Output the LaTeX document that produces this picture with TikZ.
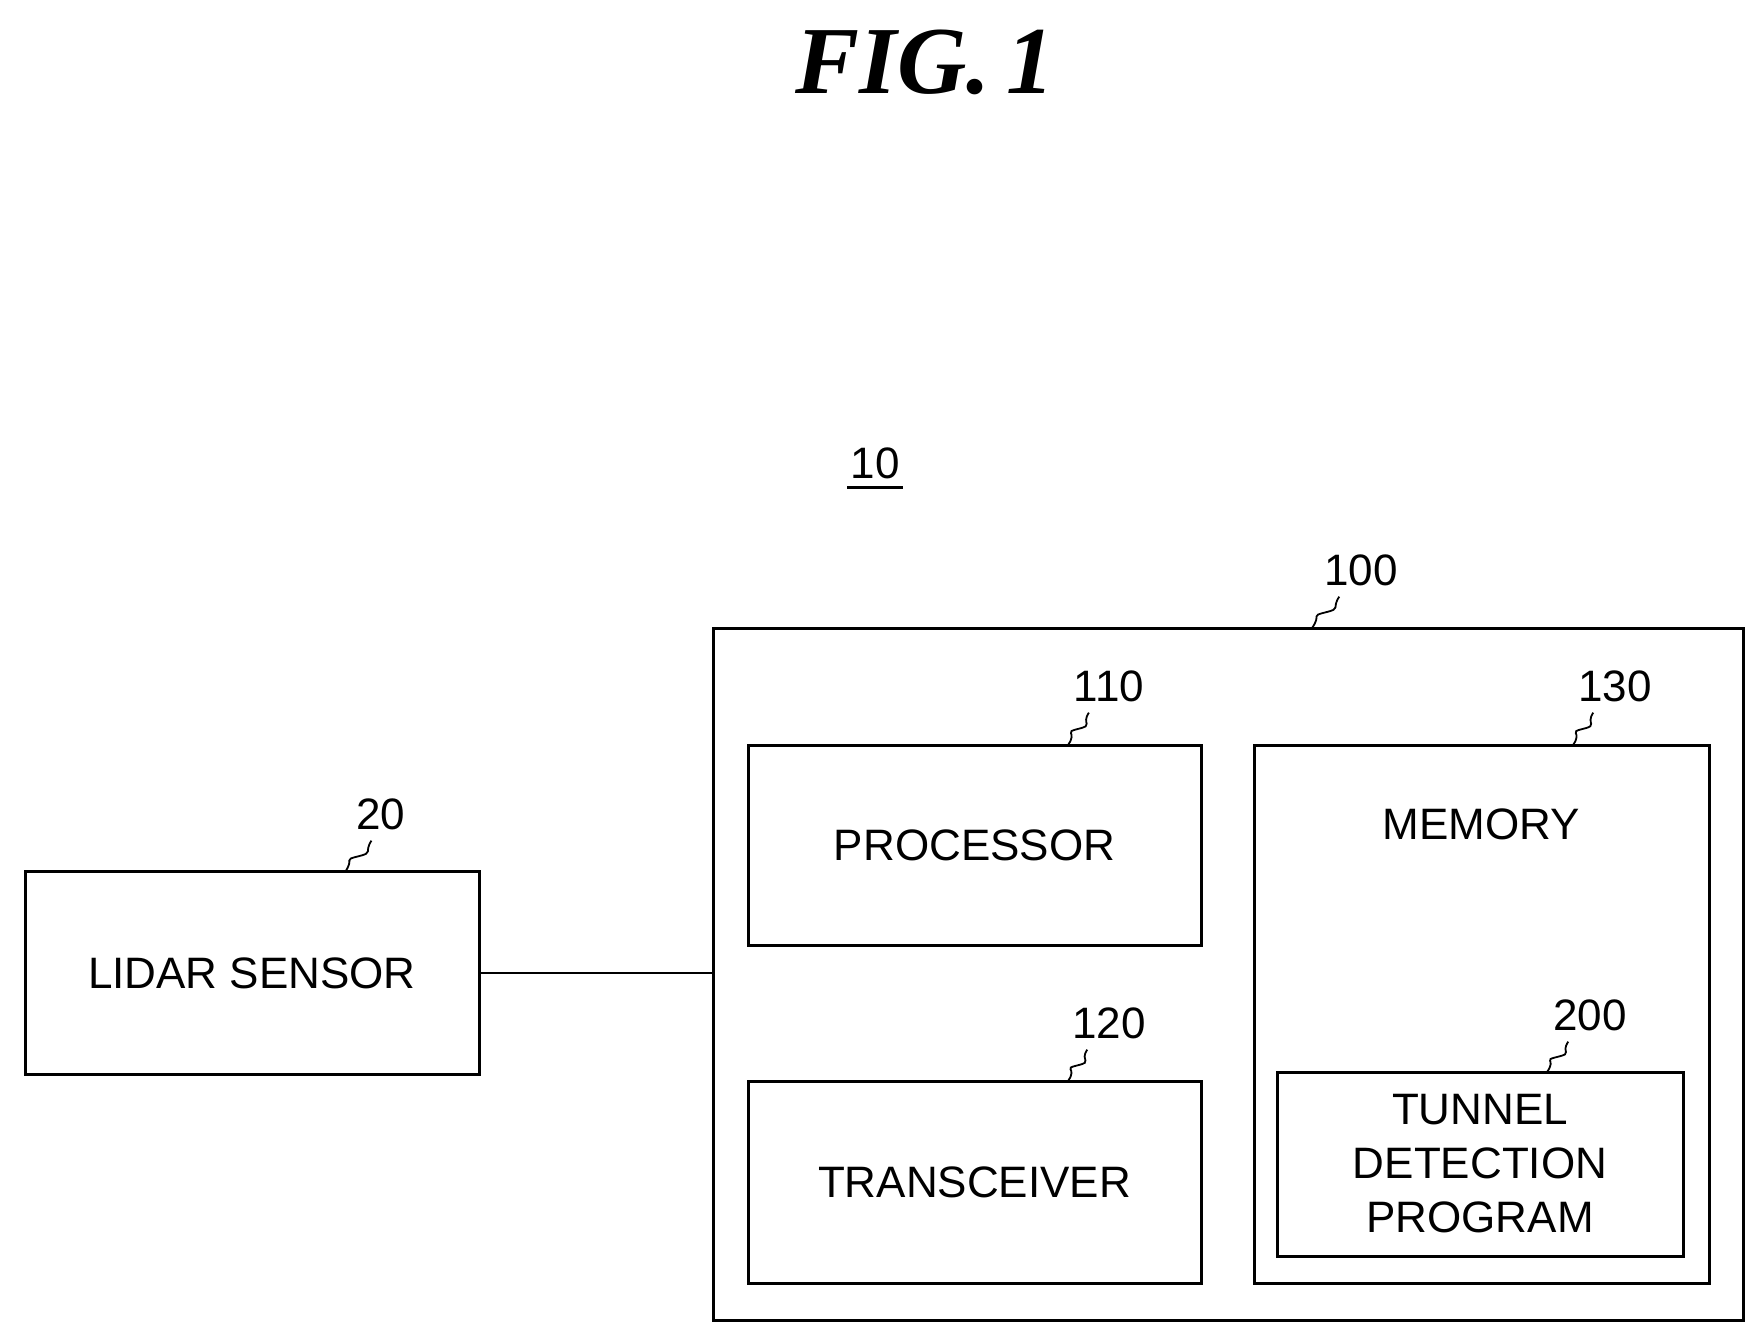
\documentclass[tikz,border=0pt]{standalone}
\usepackage{fontspec}
\setmainfont{Liberation Sans}
\newfontfamily\titlefont{Liberation Serif}
\usetikzlibrary{positioning,calc}

\tikzset{
	blk/.style={draw,line width=1.5pt,inner sep=0pt},
	num/.style={font=\fontsize{22}{26}\selectfont},
	txt/.style={font=\fontsize{22}{26}\selectfont,align=center},
	lead/.style={line width=0.9pt}
}
\newcommand{\leader}[2]{\draw[lead] (#1) .. controls ++(10,-14) and ++(-16,4) .. ($(#1)!0.5!(#2)$) .. controls ++(16,-4) and ++(-8,12) .. (#2);}

\begin{document}
\begin{tikzpicture}[x=0.5pt,y=-0.5pt]
	\useasboundingbox (0,0) rectangle (1761,1339);

	\node[font=\titlefont\bfseries\itshape\fontsize{48}{56}\selectfont] (fig) at (925,62) {FIG.\,1};
	\node[num] (sys) at (875,463) {10};
	\draw[line width=1.2pt] ($(sys.south west)+(4,2)$) -- ($(sys.south east)+(-4,2)$);

	% boxes
	\draw[blk] (713,628) rectangle (1743,1320);
	\coordinate (dev) at (713,628);
	\node[blk,minimum width=227pt,minimum height=101.5pt] (lidar) at (252,973) {};
	\node[txt] at (lidar) {LIDAR SENSOR};
	\node[blk,minimum width=226.5pt,minimum height=100pt] (proc) at (974.5,845) {};
	\node[txt] at (proc) {PROCESSOR};
	\node[blk,minimum width=226.5pt,minimum height=101pt] (trx) at (974.5,1182) {};
	\node[txt] at (trx) {TRANSCEIVER};
	\node[blk,minimum width=227.5pt,minimum height=269pt] (mem) at (1481.5,1014) {};
	\node[txt] at (1481.5,824) {MEMORY};
	\node[blk,minimum width=203pt,minimum height=92pt] (tdp) at (1480,1164) {};
	\node[txt,font=\fontsize{22}{27}\selectfont] at (tdp) {TUNNEL\\DETECTION\\PROGRAM};

	\draw[line width=1.2pt] (lidar.east) -- (lidar.east -| dev);

	% reference numerals
	\node[num] (n100) at (1361,570) {100};
	\node[num] (n20) at (381,814) {20};
	\node[num] (n110) at (1109,686) {110};
	\node[num] (n120) at (1109,1023) {120};
	\node[num] (n130) at (1615,686) {130};
	\node[num] (n200) at (1590,1015) {200};

	\coordinate (t100) at (1312,628);
	\coordinate (t20) at (345,872);
	\coordinate (t110) at (1068,745);
	\coordinate (t120) at (1068,1081);
	\coordinate (t130) at (1573,745);
	\coordinate (t200) at (1547,1072);
	\foreach \n in {100,20,110,120,130,200}
		\leader{t\n}{$(n\n.south west)+(22,4)$};
\end{tikzpicture}
\end{document}
